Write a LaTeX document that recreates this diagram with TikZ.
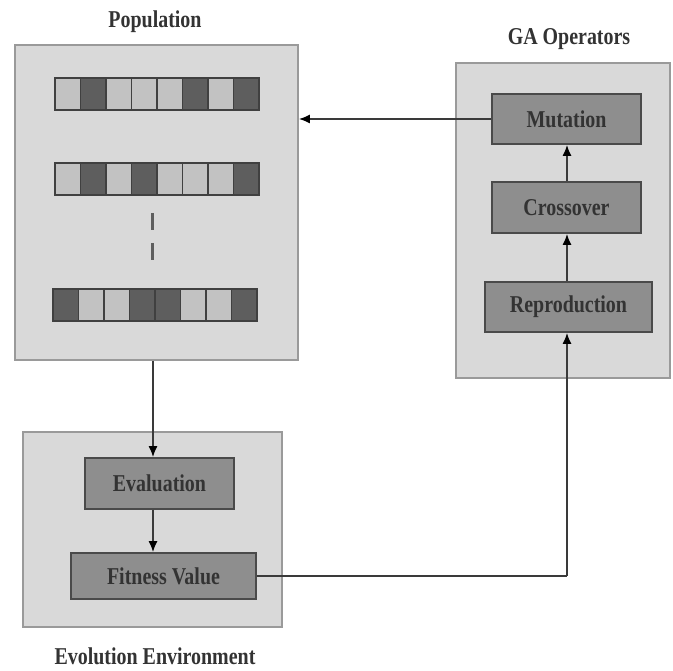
\documentclass[tikz,border=0pt]{standalone}
\usepackage{fontspec}
\setmainfont{Liberation Serif}
\usetikzlibrary{arrows.meta,calc}
\definecolor{outerfill}{HTML}{D9D9D9}
\definecolor{outerline}{HTML}{9A9A9A}
\definecolor{innerfill}{HTML}{8E8E8E}
\definecolor{innerline}{HTML}{4A4A4A}
\definecolor{celllight}{HTML}{C2C2C2}
\definecolor{celldark}{HTML}{5E5E5E}
\definecolor{conn}{HTML}{3A3A3A}
\newcommand{\tall}[1]{\scalebox{0.95}[1.15]{#1}}
\tikzset{
  outerbox/.style={draw=outerline, fill=outerfill, line width=1.8pt, inner sep=0pt},
  innerbox/.style={draw=innerline, fill=innerfill, line width=1.8pt, inner sep=0pt,
    font=\fontsize{21}{24}\selectfont\bfseries, text=black!80},
  heading/.style={font=\fontsize{21}{24}\selectfont\bfseries, text=black!80, inner sep=0pt},
  arr/.style={draw=conn, line width=1.5pt, -{Latex[length=11pt,width=9pt,fill=black,color=black]}},
  plain/.style={draw=conn, line width=1.5pt},
  cell/.style={draw=black!75, line width=1.6pt},
}
\begin{document}
\begin{tikzpicture}[x=1pt,y=-1pt]
\useasboundingbox (0,0) rectangle (673,671);
% outer boxes
\node[outerbox, minimum width=283pt, minimum height=315pt] (pop) at (156.5,202.5) {};
\node[outerbox, minimum width=214pt, minimum height=315pt] (ga) at (563,220.5) {};
\node[outerbox, minimum width=259pt, minimum height=195pt] (env) at (152.5,529.5) {};
% headings
\node[heading] (popl) at (155,22) {\tall{Population}};
\node[heading] (gal) at (569,39) {\tall{GA Operators}};
\node[heading] (envl) at (155,656) {\tall{Evolution Environment}};
% inner boxes
\node[innerbox, minimum width=149pt, minimum height=50pt] (mut) at (566.5,119) {\tall{Mutation}};
\node[innerbox, minimum width=149pt, minimum height=51pt] (cro) at (566.5,207.5) {\tall{Crossover}};
\node[innerbox, minimum width=167pt, minimum height=50pt] (rep) at (568.5,307) {\tall{Reproduction}};
\node[innerbox, minimum width=149pt, minimum height=51pt] (eval) at (159.5,483.5) {\tall{Evaluation}};
\node[innerbox, minimum width=185pt, minimum height=46pt] (fit) at (163.5,576) {\tall{Fitness Value}};
% chromosomes
\foreach \y/\x/\cols in {78/55/{L,D,L,L,L,D,L,D}, 163/55/{L,D,L,D,L,L,L,D}, 289/53/{D,L,L,D,D,L,L,D}}{
  \foreach \c [count=\i from 0] in \cols {
    \if D\c\def\fc{celldark}\else\def\fc{celllight}\fi
    \filldraw[cell, fill=\fc] (\x+\i*25.5,\y) rectangle ++(25.5,32);
  }
}
% dashes
\draw[celldark, line width=3pt] (152,213) -- (152,230);
\draw[celldark, line width=3pt] (152,243) -- (152,260);
% connectors
\coordinate (cx1) at (153,0);
\coordinate (cx2) at (567,0);
\draw[arr] (pop.south -| cx1) -- (eval.north -| cx1);
\draw[arr] (eval.south -| cx1) -- (fit.north -| cx1);
\draw[plain] (fit.east) -- (fit.east -| cx2);
\draw[arr] (fit.east -| cx2) -- (rep.south -| cx2);
\draw[arr] (rep.north -| cx2) -- (cro.south -| cx2);
\draw[arr] (cro.north -| cx2) -- (mut.south -| cx2);
\draw[arr] (mut.west) -- (pop.east |- mut.west);
\end{tikzpicture}
\end{document}
